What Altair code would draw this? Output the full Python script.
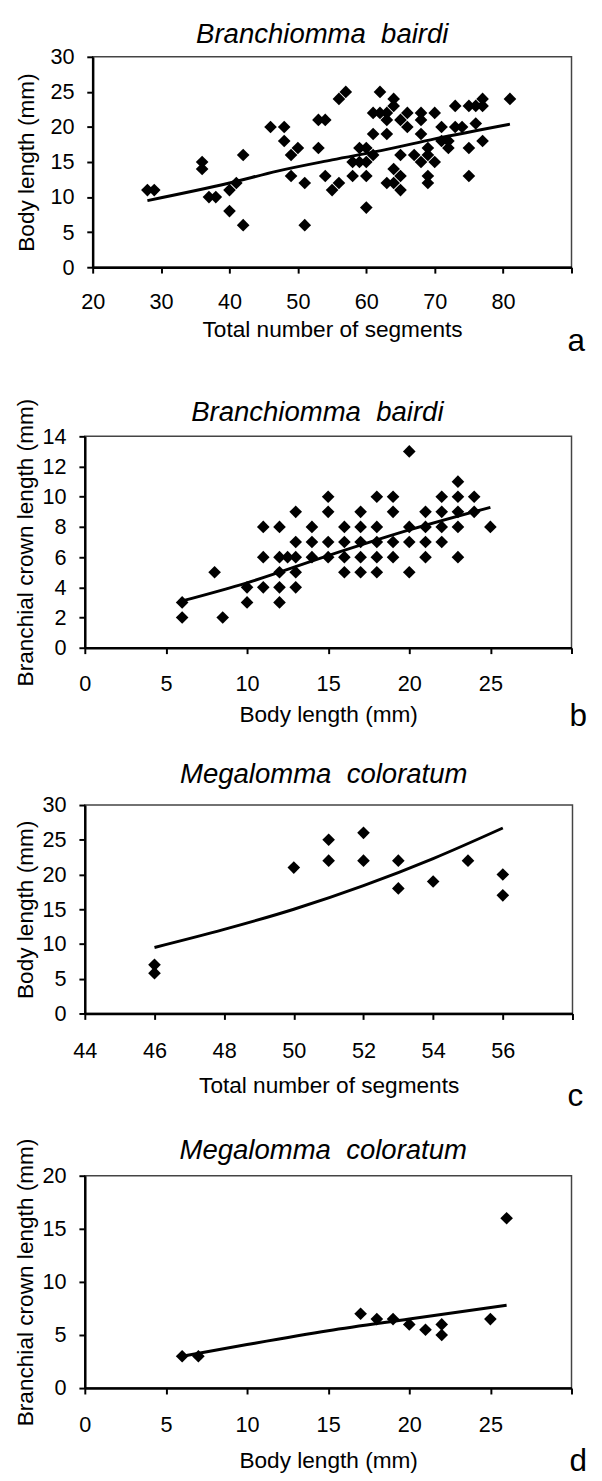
import altair as alt
import pandas as pd

FONT = "Liberation Sans"

# ---------------- Panel a : Branchiomma bairdi, segments vs body length
a_segments = [28, 29, 36, 36, 37, 38, 40, 40, 41, 42, 42,
              46, 48, 48, 49, 49, 50, 51, 51, 53, 53, 54, 54, 55, 56, 56, 57,
              58, 58, 59, 59, 60, 60, 60, 60, 61, 61, 61,
              62, 62, 63, 63, 63, 63, 64, 64, 64, 64,
              65, 65, 65, 65, 66, 66, 67, 68, 68, 68, 68,
              69, 69, 69, 69, 70, 70, 71, 71, 72, 72,
              73, 73, 74, 75, 76, 75, 75, 76, 77, 77, 77, 81]
a_body = [11, 11, 15, 14, 10, 10, 11, 8, 12, 16, 6,
          20, 20, 18, 16, 13, 17, 12, 6, 17, 21, 21, 13, 11, 12, 24, 25,
          15, 13, 17, 15, 17, 15, 13, 8.5, 16, 19, 22,
          22, 25, 22, 21, 19, 12, 24, 23, 14, 12,
          11, 13, 21, 16, 22, 20, 16, 22, 21, 19, 15,
          17, 16, 13, 12, 22, 15, 20, 18, 18, 17,
          23, 20, 20, 23, 23, 17, 13, 20.5, 24, 23, 18, 24]
a_fit_x = [28, 40, 47, 55, 63, 70, 81]
a_fit_y = [9.5, 12.0, 13.7, 15.3, 16.8, 18.3, 20.4]

# ---------------- Panel b : Branchiomma bairdi, body length vs crown length
b_body = [6, 6, 8, 8.5, 10, 10, 11, 11, 11, 12, 12, 12, 12, 12, 12.5,
          13, 13, 13, 13, 13, 14, 14, 14,
          15, 15, 15, 15, 16, 16, 16, 16, 17, 17, 17, 17, 17,
          18, 18, 18, 18, 18, 19, 19, 19, 19, 20, 20, 20, 20,
          21, 21, 21, 21, 22, 22, 22, 22, 23, 23, 23, 23, 23, 24, 24, 25]
b_crown = [3, 2, 5, 2, 4, 3, 8, 6, 4, 8, 6, 5, 4, 3, 6,
           9, 7, 6, 5, 4, 8, 7, 6,
           10, 9, 7, 6, 8, 7, 6, 5, 9, 8, 7, 6, 5,
           10, 8, 7, 6, 5, 10, 9, 7, 6, 13, 8, 7, 5,
           9, 8, 7, 6, 10, 9, 8, 7, 11, 10, 9, 8, 6, 10, 9, 8]
b_fit_x = [6, 10, 15, 20, 25]
b_fit_y = [3.1, 4.3, 6.1, 7.8, 9.3]

# ---------------- Panel c : Megalomma coloratum, segments vs body length
c_segments = [46, 46, 50, 51, 51, 52, 52, 53, 53, 54, 55, 56, 56]
c_body = [7, 5.8, 21, 25, 22, 26, 22, 22, 18, 19, 22, 20, 17]
c_fit_x = [46, 48, 50, 52, 54, 56]
c_fit_y = [9.5, 12.1, 15.0, 18.4, 22.3, 26.7]

# ---------------- Panel d : Megalomma coloratum, body length vs crown length
d_body = [6, 7, 17, 18, 19, 20, 21, 22, 22, 25, 26]
d_crown = [3, 3, 7, 6.5, 6.5, 6, 5.5, 6, 5, 6.5, 16]
d_fit_x = [6, 10, 15, 20, 26]
d_fit_y = [3.0, 4.1, 5.4, 6.5, 7.8]

titles = ["Branchiomma\u00a0 bairdi", "Branchiomma\u00a0 bairdi",
          "Megalomma\u00a0 coloratum", "Megalomma\u00a0 coloratum"]
x_titles = ["Total number of segments", "Body length (mm)",
            "Total number of segments", "Body length (mm)"]
y_titles = ["Body length (mm)", "Branchial crown length (mm)",
            "Body length (mm)", "Branchial crown length (mm)"]
letters = ["a", "b", "c", "d"]

a_xticks = [20, 30, 40, 50, 60, 70, 80, 90]
a_yticks = [0, 5, 10, 15, 20, 25, 30]
b_xticks = [0, 5, 10, 15, 20, 25, 30]
b_yticks = [0, 2, 4, 6, 8, 10, 12, 14]
c_xticks = [44, 46, 48, 50, 52, 54, 56, 58]
c_yticks = [0, 5, 10, 15, 20, 25, 30]
d_xticks = [0, 5, 10, 15, 20, 25, 30]
d_yticks = [0, 5, 10, 15, 20]


def panel(px, py, fx, fy, xticks, yticks, title, xtitle, ytitle, letter, lay):
    w, h = lay["w"], lay["h"]
    pts = pd.DataFrame({"x": px, "y": py})
    fit = pd.DataFrame({"x": fx, "y": fy})
    last = xticks[-1]
    xenc = alt.X("x:Q",
                 scale=alt.Scale(domain=[xticks[0], xticks[-1]], nice=False, zero=False),
                 axis=alt.Axis(values=xticks, title=xtitle,
                               labelExpr=f"datum.value == {last} ? '' : datum.label",
                               labelPadding=lay["xlp"], titlePadding=lay["xtp"],
                               labelFlush=False, labelOverlap=False, grid=False))
    yenc = alt.Y("y:Q",
                 scale=alt.Scale(domain=[yticks[0], yticks[-1]], nice=False, zero=False),
                 axis=alt.Axis(values=yticks, title=ytitle, titlePadding=lay["ytp"],
                               labelOverlap=False, grid=False))
    line = alt.Chart(fit).mark_line(color="black", strokeWidth=3,
                                    interpolate="monotone").encode(x=xenc, y=yenc)
    dots = alt.Chart(pts).mark_point(shape="diamond", filled=True, color="black",
                                     size=165, opacity=1).encode(x=xenc, y=yenc)
    lab = alt.Chart(pd.DataFrame({"t": [letter]})).mark_text(
        font=FONT, fontSize=32, align="left", baseline="alphabetic", color="black"
    ).encode(x=alt.value(lay["lx"]), y=alt.value(h + lay["ly"]), text="t:N")
    # invisible guide that fixes the panel's outer extent (bottom and right)
    spacer = alt.Chart(pd.DataFrame({"t": [0]})).mark_rule(opacity=0).encode(
        x=alt.value(0), x2=alt.value(lay["right"]),
        y=alt.value(h + lay["bottom"]))
    return alt.layer(line, dots, lab, spacer).properties(
        width=w, height=h,
        title=alt.Title(title, font=FONT, fontSize=28, fontStyle="italic",
                        fontWeight="normal", color="black", offset=lay["toff"],
                        anchor="middle", frame="group", dx=lay["tdx"]))


lay_a = dict(w=487, h=214, ytp=12, xlp=19, xtp=6, toff=-3, tdx=-10,
             lx=483, ly=85, right=501, bottom=131)
lay_b = dict(w=495, h=215, ytp=5, xlp=21, xtp=9, toff=-29, tdx=-11,
             lx=493, ly=80, right=517, bottom=114)
lay_c = dict(w=496, h=212, ytp=5, xlp=22, xtp=13, toff=5, tdx=-5,
             lx=491, ly=94, right=517, bottom=123)
lay_d = dict(w=495, h=216, ytp=5, xlp=21, xtp=15, toff=-27, tdx=-5,
             lx=493, ly=84, right=517, bottom=84)

pa = panel(a_segments, a_body, a_fit_x, a_fit_y, a_xticks, a_yticks, titles[0],
           x_titles[0], y_titles[0], letters[0], lay_a)
pb = panel(b_body, b_crown, b_fit_x, b_fit_y, b_xticks, b_yticks, titles[1],
           x_titles[1], y_titles[1], letters[1], lay_b)
pc = panel(c_segments, c_body, c_fit_x, c_fit_y, c_xticks, c_yticks, titles[2],
           x_titles[2], y_titles[2], letters[2], lay_c)
pd_ = panel(d_body, d_crown, d_fit_x, d_fit_y, d_xticks, d_yticks, titles[3],
            x_titles[3], y_titles[3], letters[3], lay_d)

chart = alt.concat(pa, pb, pc, pd_, columns=1, spacing=0,
                   align=alt.RowColLayoutAlign(row="none", column="all"),
                   center=True).properties(
    padding={"left": 5, "top": 0, "right": 0, "bottom": 0},
    background="white"
).configure_view(
    stroke="#444", strokeWidth=1.5
).configure_axis(
    domainColor="black", domainWidth=2.5, tickColor="black", tickWidth=2,
    tickSize=6, grid=False, labelFont=FONT, labelFontSize=22, labelColor="black",
    titleFont=FONT, titleFontSize=23, titleFontWeight="normal", titleColor="black",
    labelPadding=13
)

chart.save("out.html", embed_options={"renderer": "svg", "actions": False})
